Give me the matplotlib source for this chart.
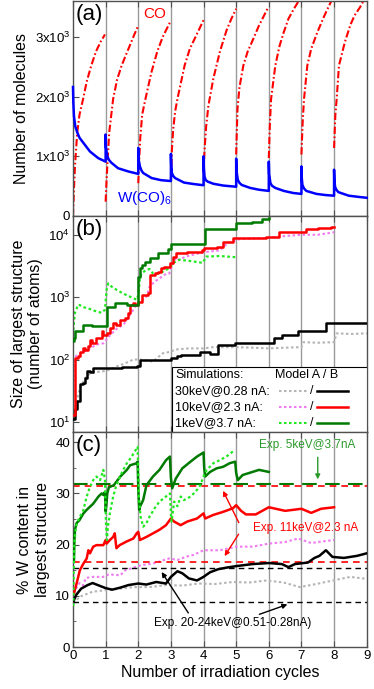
import numpy as np
import matplotlib
matplotlib.use("Agg")
import matplotlib.pyplot as plt
from matplotlib.lines import Line2D
from matplotlib.patches import Rectangle

plt.rcParams['font.family'] = ['Liberation Sans', 'DejaVu Sans']
plt.rcParams['mathtext.fontset'] = 'custom'
plt.rcParams['mathtext.rm'] = 'Liberation Sans'
plt.rcParams['mathtext.it'] = 'Liberation Sans:italic'
plt.rcParams['mathtext.bf'] = 'Liberation Sans:bold'

# ---------------- Panel (a): molecules per cycle ----------------
co_x = [
    [0, 0.03, 0.06, 0.13, 0.2, 0.31, 0.42, 0.56, 0.7, 0.85, 0.98],
    [1.0, 1.02, 1.05, 1.11, 1.23, 1.35, 1.49, 1.7, 1.85, 2.0],
    [2.0, 2.03, 2.06, 2.12, 2.22, 2.4, 2.58, 2.75, 2.97],
    [3.0, 3.03, 3.07, 3.13, 3.2, 3.42, 3.58, 3.8, 4.0],
    [4.0, 4.03, 4.08, 4.15, 4.3, 4.5, 4.7, 4.85, 5.0],
    [5.0, 5.04, 5.1, 5.22, 5.35, 5.48, 5.7, 5.96],
    [6.0, 6.03, 6.07, 6.2, 6.33, 6.46, 6.6, 6.77, 6.96],
    [7.0, 7.04, 7.08, 7.18, 7.3, 7.49, 7.7, 7.95],
    [8.0, 8.04, 8.08, 8.15, 8.33, 8.5, 8.63, 8.8, 8.94],
]
co_y = [
    [0, 450, 830, 1400, 1700, 1960, 2250, 2520, 2750, 2920, 3040],
    [240, 500, 830, 1400, 1960, 2280, 2520, 2800, 3000, 3190],
    [550, 950, 1300, 1700, 1960, 2400, 2750, 3000, 3240],
    [600, 1100, 1450, 1750, 1960, 2520, 2800, 3050, 3280],
    [720, 1100, 1500, 1850, 2300, 2750, 3100, 3300, 3470],
    [1030, 1790, 2150, 2520, 2750, 2910, 3190, 3470],
    [970, 1500, 1960, 2520, 2850, 3080, 3300, 3470, 3640],
    [1030, 1600, 1960, 2520, 2800, 3080, 3350, 3640],
    [1140, 1700, 1960, 2520, 2910, 3200, 3360, 3500, 3640],
]
wco6_x = [
    [0, 0.01, 0.03, 0.07, 0.13, 0.2, 0.31, 0.52, 0.77, 1.0],
    [1.0, 1.01, 1.05, 1.1, 1.18, 1.38, 1.7, 2.0],
    [2.0, 2.01, 2.05, 2.1, 2.15, 2.41, 2.7, 3.0],
    [3.0, 3.01, 3.03, 3.07, 3.13, 3.4, 3.7, 4.0],
    [4.0, 4.01, 4.03, 4.07, 4.13, 4.3, 4.6, 5.0],
    [5.0, 5.01, 5.05, 5.1, 5.17, 5.43, 5.7, 6.0],
    [6.0, 6.01, 6.05, 6.1, 6.2, 6.46, 6.75, 7.0],
    [7.0, 7.01, 7.03, 7.08, 7.15, 7.46, 7.75, 8.0],
    [8.0, 8.01, 8.03, 8.07, 8.13, 8.45, 8.75, 9.0],
]
wco6_y = [
    [2160, 1900, 1670, 1500, 1400, 1310, 1230, 1080, 970, 910],
    [1365, 1150, 1000, 940, 890, 800, 745, 705],
    [1140, 950, 830, 760, 720, 635, 600, 585],
    [1040, 850, 720, 670, 635, 560, 535, 515],
    [1000, 800, 660, 600, 575, 540, 510, 490],
    [960, 760, 605, 555, 520, 470, 440, 420],
    [910, 700, 550, 505, 470, 420, 385, 370],
    [830, 640, 520, 460, 420, 370, 350, 340],
    [775, 600, 490, 440, 400, 340, 320, 305],
]

# ---------------- Panel (b): size of largest structure ----------------
b30A_x = [0, 0.05, 0.11, 0.21, 0.37, 0.52, 0.72, 0.93, 1.14, 1.34, 1.55, 1.85, 2.05, 2.45, 2.75, 2.95,
          3.15, 3.55, 4.0, 4.3, 5.0, 5.5, 6.0, 6.5, 7.0, 7.06, 7.5, 8.0, 8.08, 8.5, 9.0]
b30A_y = [10, 14, 21, 35, 50, 60, 63, 65, 69, 78, 85, 100, 100, 93, 126, 132,
          145, 151, 151, 158, 158, 155, 151, 155, 158, 190, 186, 190, 263, 257, 263]
b30B_x = [0, 0.05, 0.11, 0.21, 0.31, 0.37, 0.42, 0.52, 0.62, 1.3, 1.5, 1.95, 2.05, 2.9, 3.0, 3.2, 3.3,
          3.9, 4.2, 4.45, 4.95, 6.0, 6.15, 6.4, 6.9, 7.65, 7.75, 9.0]
b30B_y = [11, 16, 22, 40, 42, 50, 65, 63, 72, 74, 76, 78, 100, 100, 105, 112, 117,
          132, 123, 174, 182, 182, 224, 251, 282, 282, 380, 380]
b10A_x = [0, 0.03, 0.11, 0.31, 0.52, 0.72, 0.93, 1.15, 1.35, 1.55, 1.75, 1.95, 2.05, 2.15, 2.25, 2.35,
          2.5, 2.65, 2.8, 2.95, 3.05, 3.15, 3.25, 3.45, 3.75, 4.0, 4.5, 4.75, 5.1, 5.5, 6.0, 6.5, 7.0,
          7.5, 8.0]
b10A_y = [10, 93, 117, 132, 151, 174, 182, 251, 316, 363, 525, 759, 851, 912, 1023, 1479,
          1778, 1995, 2291, 2399, 3311, 4266, 3981, 4467, 4898, 5248, 5623, 7413, 8511, 8710, 8913,
          9550, 10000, 10000, 10965]
b10B_x = [0, 0.05, 0.15, 0.22, 0.3, 0.36, 0.47, 0.52, 0.57, 0.72, 0.88, 0.93, 1.03, 1.13, 1.23, 1.33,
          1.43, 1.6, 1.7, 1.75, 1.85, 1.9, 2.0, 2.1, 2.3, 2.35, 2.5, 2.6, 2.7, 2.8, 2.97, 3.05, 3.15,
          3.5, 3.95, 4.0, 4.4, 4.6, 4.9, 5.9, 6.3, 7.15, 7.5, 7.9, 8.0]
b10B_y = [13, 105, 112, 132, 151, 141, 166, 209, 186, 224, 282, 251, 269, 316, 380, 355,
          437, 457, 550, 759, 794, 759, 851, 1096, 1148, 2291, 2455, 2570, 2951, 3090, 3548, 4467, 5012,
          5248, 5754, 6166, 6310, 7586, 8913, 9333, 11220, 12589, 12882, 13490, 13490]
b1A_x = [0, 0.01, 0.03, 0.06, 0.16, 0.22, 0.32, 0.52, 0.72, 0.88, 0.98, 1.03, 1.08, 1.18, 1.33, 1.53,
         1.74, 1.95, 2.0, 2.05, 2.1, 2.25, 2.35, 2.45, 2.65, 2.97, 3.07, 3.27, 3.58, 3.98, 4.08, 4.5, 5.0]
b1A_y = [200, 282, 398, 562, 759, 741, 692, 646, 589, 562, 631, 1318, 1660, 1479, 1318, 1148,
         1023, 912, 1072, 1995, 2399, 2754, 2818, 2399, 2399, 2951, 3548, 3981, 3802, 3548, 4467, 4571, 4365]
b1B_x = [0, 0.02, 0.05, 0.32, 0.58, 0.98, 1.05, 1.3, 1.65, 2.0, 2.05, 2.1, 2.2, 2.35, 2.6, 2.9, 3.0,
         4.0, 4.05, 4.9, 5.0, 5.5, 5.8, 6.0]
b1B_y = [200, 224, 282, 363, 339, 339, 708, 794, 759, 2138, 2951, 3311, 3715, 4266, 5129, 6026, 7079,
         7079, 12589, 12589, 15488, 16218, 17783, 18621]

# ---------------- Panel (c): % W content ----------------
c30A_x = [0.02, 0.2, 0.6, 1.0, 1.45, 1.85, 2.35, 2.85, 3.35, 3.85, 4.35, 4.9, 5.4, 5.93, 6.45, 6.95,
          7.45, 7.97, 8.5, 9.0]
c30A_y = [8.5, 9.8, 10.8, 11.1, 11.4, 11.7, 11.7, 12.1, 12.0, 12.4, 12.3, 12.7, 12.6, 13.0, 12.6, 11.7,
          12.3, 13.0, 13.7, 13.3]
c30B_x = [0.02, 0.1, 0.25, 0.45, 0.6, 0.8, 1.0, 1.2, 1.45, 1.7, 2.0, 2.25, 2.55, 2.85, 3.0, 3.2, 3.35,
          3.55, 3.8, 4.0, 4.2, 4.45, 4.7, 5.0, 5.5, 6.0, 6.4, 6.6, 6.8, 7.2, 7.4, 7.55, 7.75, 7.95, 8.3,
          8.7, 9.0]
c30B_y = [9.0, 10.2, 11.4, 12.1, 12.5, 12.0, 11.5, 11.2, 11.6, 12.1, 12.4, 12.2, 12.7, 12.4, 13.7, 14.8,
          14.4, 13.4, 13.0, 13.7, 14.6, 15.2, 15.5, 15.8, 16.2, 16.4, 16.2, 15.6, 16.2, 16.5, 17.4, 17.8,
          18.9, 17.6, 17.4, 17.8, 18.3]
c10A_x = [0.03, 0.1, 0.2, 0.3, 0.4, 0.6, 0.93, 1.1, 1.45, 1.6, 1.95, 2.1, 2.45, 2.7, 2.95, 3.2, 3.45,
          3.7, 4.0, 4.5, 5.0, 5.5, 6.0, 6.5, 6.9, 7.3, 7.6, 8.0]
c10A_y = [10.5, 11.5, 12.5, 12.0, 13.5, 13.7, 13.7, 14.2, 14.0, 15.0, 15.7, 16.0, 16.3, 16.8, 17.3, 17.0,
          17.6, 18.0, 18.9, 18.9, 19.6, 19.6, 20.2, 20.5, 21.2, 20.3, 20.6, 20.9]
c10B_x = [0.03, 0.11, 0.21, 0.32, 0.42, 0.47, 0.52, 0.62, 0.72, 0.93, 1.0, 1.03, 1.13, 1.23, 1.28, 1.33,
          1.43, 1.64, 1.85, 1.95, 2.0, 2.05, 2.25, 2.45, 2.65, 2.85, 3.0, 3.1, 3.3, 3.5, 3.8, 4.0, 4.05,
          4.3, 4.6, 4.9, 5.0, 5.15, 5.3, 5.6, 6.0, 6.5, 7.0, 7.3, 7.6, 8.0]
c10B_y = [10.5, 12.4, 15.0, 16.3, 17.3, 18.9, 18.3, 19.6, 19.9, 19.9, 20.9, 20.2, 20.9, 21.5, 22.2, 19.3,
          19.9, 20.6, 21.2, 22.2, 22.5, 20.9, 21.5, 22.2, 22.9, 23.8, 25.1, 24.5, 23.8, 24.5, 25.1, 26.1, 25.1,
          25.8, 26.4, 27.1, 27.7, 26.6, 25.9, 25.9, 27.3, 26.6, 27.0, 26.2, 27.0, 27.3]
c1A_x = [0.01, 0.02, 0.04, 0.09, 0.16, 0.32, 0.42, 0.52, 0.62, 0.72, 0.83, 0.93, 0.98, 1.01, 1.04, 1.07,
         1.13, 1.23, 1.33, 1.44, 1.54, 1.65, 1.8, 1.95, 1.98, 2.0, 2.02, 2.07, 2.15, 2.25, 2.35, 2.5, 2.65,
         2.85, 2.97, 3.0, 3.02, 3.05, 3.1, 3.2, 3.3, 3.4, 3.5, 3.6, 3.7, 3.8, 3.9, 4.0, 4.1, 4.3, 4.5,
         4.7, 4.9]
c1A_y = [8.0, 14.4, 20.2, 23.5, 24.8, 26.8, 29.4, 31.3, 32.6, 33.3, 32.6, 34.6, 32.6, 24.2, 20.9, 23.5,
         26.1, 29.4, 31.6, 33.3, 34.6, 35.9, 37.2, 38.8, 39.1, 34.0, 29.4, 25.5, 23.5, 24.2, 25.5, 27.1, 28.4,
         29.4, 30.0, 26.0, 24.5, 26.0, 28.4, 27.5, 29.4, 28.7, 29.0, 29.4, 30.0, 30.7, 31.6, 33.3, 34.6,
         35.9, 36.5, 37.2, 38.2]
c1B_x = [0.03, 0.04, 0.06, 0.11, 0.2, 0.32, 0.42, 0.52, 0.62, 0.78, 0.88, 0.93, 0.98, 1.0, 1.02, 1.05,
         1.1, 1.25, 1.45, 1.65, 1.75, 1.95, 1.98, 2.0, 2.03, 2.06, 2.15, 2.25, 2.45, 2.65, 2.85, 2.97, 3.0,
         3.04, 3.15, 3.35, 3.6, 3.8, 4.0, 4.02, 4.05, 4.2, 4.4, 4.6, 4.8, 4.97, 5.0, 5.05, 5.2, 5.5, 5.7,
         6.0]
c1B_y = [17.0, 20.2, 22.9, 24.2, 24.8, 26.1, 26.8, 27.4, 28.0, 29.4, 30.0, 29.7, 30.3, 26.5, 27.5, 30.0,
         31.2, 31.6, 33.3, 34.6, 35.5, 35.9, 36.2, 31.0, 26.8, 27.5, 28.7, 31.6, 33.3, 34.6, 36.5, 37.2, 33.0,
         31.0, 32.9, 34.9, 36.2, 37.2, 38.0, 35.0, 33.3, 34.2, 34.9, 35.2, 35.9, 36.2, 34.0, 32.6, 33.6, 34.2,
         34.6, 34.2]

exp_5kev = 31.8
exp_11kev = [31.5, 16.6]
exp_20kev = [15.5, 8.7]

cycles = list(range(10))
molecule_ticks = [0, 1000, 2000, 3000]
molecule_labels = ['0', '1x10$^3$', '2x10$^3$', '3x10$^3$']
size_ticks = [10, 100, 1000, 10000]
size_labels = ['10$^1$', '10$^2$', '10$^3$', '10$^4$']
wcont_ticks = [0, 10, 20, 30, 40]

# ---------------- Styles ----------------
RED = '#ff0000'
BLUE = '#0000ff'
DKGREEN = '#007a00'
LTGREEN = '#1ee81e'
PINK = '#f07af0'
GRAY = '#b5b5b5'
GRID = '#9a9a9a'
SPINE = '#505050'
dot = (0, (1.2, 1.2))

fig = plt.figure(figsize=(3.74, 6.89), dpi=100)
L, W = 73 / 374, 293.7 / 374
ax_a = fig.add_axes([L, 1 - 216 / 689, W, 215 / 689])
ax_b = fig.add_axes([L, 1 - 432 / 689, W, 216 / 689])
ax_c = fig.add_axes([L, 1 - 647 / 689, W, 215 / 689])

for ax in (ax_a, ax_b, ax_c):
    ax.set_xlim(0, 9)
    ax.set_xticks(cycles)
    for xv in cycles[1:-1]:
        ax.axvline(xv, color=GRID, lw=1.0, zorder=0)
    ax.tick_params(direction='in', length=4, width=0.8, labelsize=9.5, top=True,
                   color=SPINE, pad=2)
    for s in ax.spines.values():
        s.set_color(SPINE)
        s.set_linewidth(1.0)

ax_a.tick_params(labelbottom=False)
ax_b.tick_params(labelbottom=False)

# Panel (a)
for xs, ys in zip(co_x, co_y):
    ax_a.plot(xs, ys, color=RED, lw=1.5, dashes=(3.5, 1.2, 0.8, 1.2), zorder=2)
ax_a.plot([v for c in wco6_x for v in c], [v for c in wco6_y for v in c],
          color=BLUE, lw=1.8, zorder=3, clip_on=False)
ax_a.set_ylim(0, 3600)
ax_a.set_yticks(molecule_ticks)
ax_a.set_yticklabels(molecule_labels)
ax_a.set_ylabel('Number of molecules', fontsize=11.5, labelpad=4)
ax_a.text(0.01, 0.985, '(a)', transform=ax_a.transAxes, fontsize=16, va='top', ha='left')
ax_a.text(2.5, 3390, 'CO', color=RED, fontsize=11, ha='center', va='center')
ax_a.text(2.2, 300, 'W(CO)$_6$', color=BLUE, fontsize=11, ha='center', va='center')

# Panel (b)
ax_b.set_yscale('log')
ax_b.plot(b30A_x, b30A_y, color=GRAY, lw=1.5, ls=dot, zorder=2)
ax_b.plot(b10A_x, b10A_y, color=PINK, lw=1.5, ls=dot, zorder=2)
ax_b.plot(b1A_x, b1A_y, color=LTGREEN, lw=1.6, ls=dot, zorder=2)
ax_b.plot(b30B_x, b30B_y, color='black', lw=1.8, drawstyle='steps-post', zorder=3)
ax_b.plot(b10B_x, b10B_y, color=RED, lw=1.8, drawstyle='steps-post', zorder=3)
ax_b.plot(b1B_x, b1B_y, color=DKGREEN, lw=1.8, drawstyle='steps-post', zorder=3)
ax_b.set_ylim(6.9, 2.0e4)
ax_b.set_yticks(size_ticks)
ax_b.set_yticklabels(size_labels)
ax_b.yaxis.set_minor_locator(matplotlib.ticker.NullLocator())
ax_b.set_ylabel('Size of largest structure\n(number of atoms)', fontsize=11.5, labelpad=4,
                linespacing=1.2)
ax_b.text(0.01, 0.985, '(b)', transform=ax_b.transAxes, fontsize=16, va='top', ha='left')

# Legend box in (b)
ax_b.add_patch(Rectangle((0.337, 0.0), 0.663, 0.30, transform=ax_b.transAxes,
                         facecolor='white', edgecolor='black', lw=0.8, zorder=5))
lx = 0.347
ax_b.text(lx, 0.262, 'Simulations:', transform=ax_b.transAxes, fontsize=9, va='center',
          ha='left', zorder=6)
ax_b.text(0.688, 0.262, 'Model A / B', transform=ax_b.transAxes, fontsize=9, va='center',
          ha='left', zorder=6)
rows = [('30keV@0.28 nA:', GRAY, 'black', 0.19),
        ('10keV@2.3 nA:', PINK, RED, 0.115),
        ('1keV@3.7 nA:', LTGREEN, DKGREEN, 0.04)]
for lab, ca, cb, yy in rows:
    ax_b.text(lx, yy, lab, transform=ax_b.transAxes, fontsize=9, va='center', ha='left', zorder=6)
    ax_b.add_line(Line2D([0.7, 0.797], [yy, yy], transform=ax_b.transAxes, color=ca, lw=1.5,
                         ls=dot, zorder=6))
    ax_b.text(0.814, yy, '/', transform=ax_b.transAxes, fontsize=9, va='center', ha='center',
              zorder=6)
    ax_b.add_line(Line2D([0.831, 0.936], [yy, yy], transform=ax_b.transAxes, color=cb, lw=1.8,
                         zorder=6))

# Panel (c)
ax_c.plot(c30A_x, c30A_y, color=GRAY, lw=1.5, ls=dot, zorder=2)
ax_c.plot(c10A_x, c10A_y, color=PINK, lw=1.5, ls=dot, zorder=2)
ax_c.plot(c30B_x, c30B_y, color='black', lw=1.8, zorder=3)
ax_c.plot(c10B_x, c10B_y, color=RED, lw=1.8, zorder=3)
ax_c.plot(c1B_x, c1B_y, color=DKGREEN, lw=1.8, zorder=3)
ax_c.plot(c1A_x, c1A_y, color=LTGREEN, lw=1.6, ls=dot, zorder=4)
ax_c.axhline(exp_5kev, color=DKGREEN, lw=1.5, dashes=(7, 4), zorder=2)
for v in exp_11kev:
    ax_c.axhline(v, color=RED, lw=1.2, dashes=(4, 3), zorder=2)
for v in exp_20kev:
    ax_c.axhline(v, color='black', lw=1.0, dashes=(4, 3), zorder=2)
ax_c.set_ylim(0, 42)
ax_c.set_yticks(wcont_ticks)
ax_c.yaxis.set_minor_locator(matplotlib.ticker.MultipleLocator(5))
ax_c.tick_params(which='minor', direction='in', length=2.5, color=SPINE)
ax_c.set_ylabel('% W content in\nlargest structure', fontsize=11.5, labelpad=4, linespacing=1.2)
ax_c.set_xlabel('Number of irradiation cycles', fontsize=11.5, labelpad=2)
ax_c.text(0.01, 0.985, '(c)', transform=ax_c.transAxes, fontsize=16, va='top', ha='left')

EXPGREEN = '#2b9a2b'
ax_c.text(7.18, 39.5, 'Exp. 5keV@3.7nA', color=EXPGREEN, fontsize=8.5, ha='center', va='center',
          zorder=6)
ax_c.annotate('', xy=(7.5, 32.2), xytext=(7.5, 37.6),
              arrowprops=dict(arrowstyle='-|>', color=EXPGREEN, lw=1.0, mutation_scale=7))
ax_c.text(7.12, 23.2, 'Exp. 11keV@2.3 nA', color=RED, fontsize=8.5, ha='center', va='center',
          zorder=6)
ax_c.annotate('', xy=(4.56, 31.0), xytext=(5.12, 23.8),
              arrowprops=dict(arrowstyle='-|>', color=RED, lw=1.0, mutation_scale=7))
ax_c.annotate('', xy=(4.6, 17.3), xytext=(5.12, 22.5),
              arrowprops=dict(arrowstyle='-|>', color=RED, lw=1.0, mutation_scale=7))
ax_c.text(4.9, 4.7, 'Exp. 20-24keV@0.51-0.28nA)', color='black', fontsize=8.5, ha='center',
          va='center', zorder=6)
ax_c.annotate('', xy=(2.67, 15.1), xytext=(3.58, 6.2),
              arrowprops=dict(arrowstyle='-|>', color='black', lw=1.0, mutation_scale=7))
ax_c.annotate('', xy=(6.65, 8.5), xytext=(5.63, 6.2),
              arrowprops=dict(arrowstyle='-|>', color='black', lw=1.0, mutation_scale=7))

fig.savefig('out.png', dpi=100)
